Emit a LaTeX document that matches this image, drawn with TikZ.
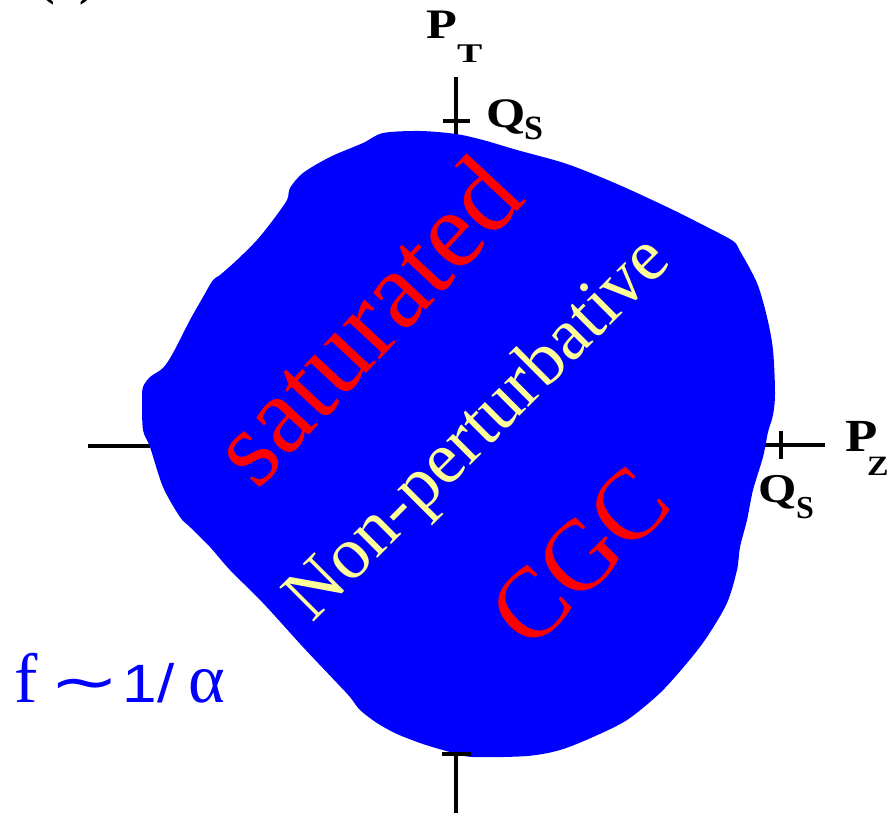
\documentclass[tikz,border=0pt]{standalone}
\usepackage{fontspec}
\setmainfont{Liberation Serif}
\newfontfamily\sansf{Liberation Sans}
\newfontfamily\dejavu{DejaVu Sans}
\definecolor{blobblue}{RGB}{0,0,255}
\definecolor{labred}{RGB}{255,0,0}
\definecolor{labyellow}{RGB}{255,255,153}
\begin{document}
\begin{tikzpicture}[x=1pt,y=-1pt,
  axisline/.style={line width=4pt,black},
  lbl/.style={inner sep=0pt,outer sep=0pt,anchor=base west,font=\bfseries},
  inlbl/.style={inner sep=0pt,outer sep=0pt,anchor=base}]
\useasboundingbox (0,0) rectangle (890,814);
\fill[white] (0,0) rectangle (890,814);
% clipped title remnant
\begin{scope}
\clip (0,0) rectangle (890,814);
\node[lbl] (title) at (38,-6) {\fontsize{50}{50}\selectfont (a)};
\end{scope}
% axes (under blob)
\draw[axisline] (88,446) -- (170,446);
\draw[axisline] (745,445) -- (825,445);
\draw[axisline] (456,77) -- (456,150);
\draw[axisline] (456,740) -- (456,813);
% blob
\fill[blobblue] plot[smooth cycle, tension=0.5] coordinates {
(383,133) (420,131) (456,134) (483,140) (517,150) (567,164) (617,184)
(667,207) (707,227) (733,241) (740,251) (757,283) (767,317) (773,350)
(775,393) (773,415) (768,432) (763,457) (753,490) (747,520) (740,547)
(737,570) (727,603) (707,637) (687,663) (660,693) (627,720) (593,737)
(560,750) (527,756) (473,757) (450,752) (423,744) (397,734) (377,723)
(360,710) (350,697) (337,683) (303,647) (263,603) (230,570) (210,547)
(190,527) (180,517) (163,487) (150,447) (143,430) (142,400) (143,387)
(150,377) (163,368) (173,353) (190,320) (203,297) (213,280) (220,275)
(237,260) (257,240) (273,220) (287,200) (290,188) (303,173) (330,157)
(363,143)};
% ticks
\draw[axisline] (443,121) -- (470,121);
\draw[axisline] (442,754) -- (471,754);
\draw[axisline] (781,431) -- (781,459);
% axis labels
\node[lbl] (pt) at (426,38) {\fontsize{42}{42}\selectfont\scalebox{1.2}[1]{P}};
\node[lbl] (pts) at (457,62) {\fontsize{27}{27}\selectfont\scalebox{1.4}[1]{T}};
\node[lbl] (qt) at (486,127) {\fontsize{42}{42}\selectfont\scalebox{1.2}[1]{Q}};
\node[lbl] (qts) at (524,139) {\fontsize{34}{34}\selectfont S};
\node[lbl] (pz) at (845,451) {\fontsize{46}{46}\selectfont\scalebox{1.15}[1]{P}};
\node[lbl] (pzs) at (867,475) {\fontsize{28}{28}\selectfont\scalebox{1.15}[1]{Z}};
\node[lbl] (qz) at (758,502) {\fontsize{41}{41}\selectfont\scalebox{1.2}[1]{Q}};
\node[lbl] (qzs) at (796,518) {\fontsize{32}{32}\selectfont S};
% inner labels
\node[inlbl,rotate=47,text=labred] (sat) at (393,346) {\fontsize{110}{110}\selectfont saturated};
\node[inlbl,rotate=45,text=labyellow] (np) at (493,443) {\fontsize{74}{74}\selectfont Non-perturbative};
\node[inlbl,rotate=45,text=labred] (cgc) at (603,580) {\fontsize{100}{100}\selectfont CGC};
% f ~ 1/alpha
\node[inner sep=0pt,anchor=base west,text=blobblue] (f) at (14,702)
 {\fontsize{70}{70}\selectfont f\hspace{12pt}{\dejavu\fontsize{60}{60}\selectfont\scalebox{1.4}[1]{∼}}\hspace{3pt}{\sansf\fontsize{54}{54}\selectfont\scalebox{1.15}[1]{1/}}\hspace{14pt}α};
\end{tikzpicture}
\end{document}
